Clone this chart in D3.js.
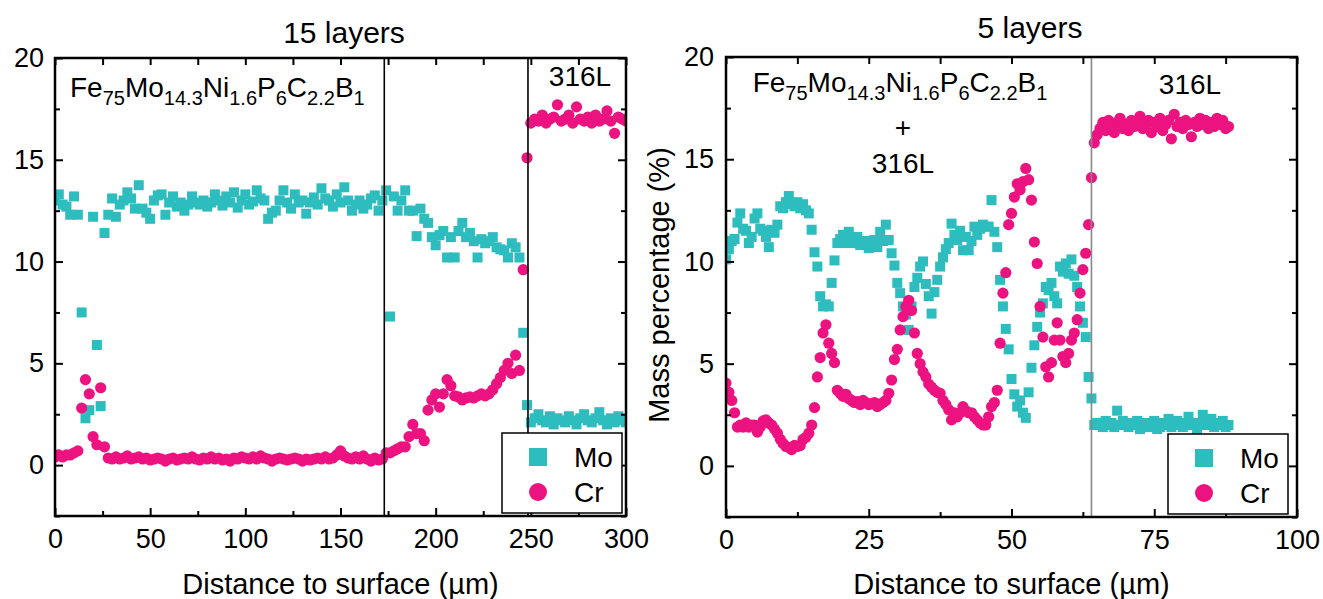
<!DOCTYPE html>
<html>
<head>
<meta charset="utf-8">
<script src="https://cdn.jsdelivr.net/npm/d3@7"></script>
<style>
  body { margin: 0; background: #fff; }
  svg { display: block; font-family: "Liberation Sans", Arial, sans-serif; }
</style>
</head>
<body>
<div id="chart"></div>
<script>
// ---- data (mass %) ----
// 15 layers: line scan 0..300 um, one reading every 2 um
const leftStart = 0, leftStep = 2;
const leftMo = [
  13.0, 13.3, 12.8, 12.7, 12.3, 13.2, 12.3, 7.5, 2.3, 2.7,
  12.2, 5.9, 2.9, 11.4, 12.3, 13.1, 12.2, 12.8, 13.0, 13.4,
  13.1, 12.6, 13.75, 12.6, 12.4, 12.1, 13.0, 13.25, 13.3, 12.3,
  12.9, 13.2, 12.7, 12.9, 12.5, 12.8, 13.2, 12.9, 12.8, 13.0,
  12.7, 12.9, 13.3, 13.0, 12.75, 13.2, 12.9, 13.4, 12.65, 13.0,
  13.3, 12.8, 12.95, 13.5, 13.1, 13.0, 12.1, 12.4, 12.5, 13.0,
  13.5, 12.9, 12.6, 13.3, 12.9, 13.0, 12.35, 12.9, 13.15, 12.8,
  13.6, 13.1, 13.0, 12.7, 13.3, 12.9, 13.65, 13.0, 12.5, 12.8,
  13.0, 12.6, 12.8, 13.1, 13.25, 12.5, 13.0, 13.5, 7.3, 13.2,
  12.5, 13.0, 13.5, 12.5, 12.5, 11.25, 12.6, 12.1, 11.9, 11.2,
  10.8, 11.3, 11.5, 10.2, 11.2, 10.2, 11.5, 11.9, 11.2, 11.4,
  11.0, 10.2, 11.1, 10.9, 11.0, 11.2, 10.7, 10.6, 10.55, 10.2,
  10.9, 10.7, 10.2, 6.5, 2.95, 2.1, 2.3, 2.5, 2.2, 2.1,
  2.4, 2.0, 2.3, 2.2, 2.1, 2.4, 2.2, 2.0, 2.3, 2.5,
  2.2, 2.1, 2.3, 2.6, 2.2, 2.0, 2.3, 2.1, 2.4, 2.2,
  2.1
];
const leftCr = [
  0.4, 0.5, 0.4, 0.5, 0.5, 0.6, 0.7, 2.8, 4.2, 3.5,
  1.4, 1.0, 3.8, 0.9, 0.35, 0.3, 0.4, 0.3, 0.35, 0.45,
  0.3, 0.35, 0.4, 0.3, 0.35, 0.25, 0.3, 0.35, 0.3, 0.2,
  0.3, 0.35, 0.25, 0.3, 0.35, 0.3, 0.4, 0.3, 0.25, 0.35,
  0.3, 0.4, 0.3, 0.35, 0.25, 0.3, 0.2, 0.35, 0.3, 0.4,
  0.35, 0.3, 0.4, 0.3, 0.45, 0.35, 0.3, 0.2, 0.3, 0.35,
  0.3, 0.25, 0.3, 0.35, 0.3, 0.2, 0.3, 0.25, 0.3, 0.35,
  0.3, 0.4, 0.3, 0.35, 0.5, 0.7, 0.45, 0.35, 0.3, 0.4,
  0.3, 0.45, 0.3, 0.2, 0.35, 0.25, 0.3, 0.6, 0.6, 0.7,
  0.8, 0.9, 0.9, 1.4, 2.0, 1.55, 1.55, 1.2, 2.7, 3.2,
  3.5, 2.85, 3.5, 4.2, 3.9, 3.4, 3.35, 3.2, 3.3, 3.35,
  3.3, 3.4, 3.5, 3.4, 3.5, 3.7, 4.0, 4.3, 4.65, 5.0,
  4.5, 5.4, 4.65, 9.6, 15.1, 16.8, 17.0, 16.9, 17.2, 16.8,
  17.0, 17.1, 17.7, 16.9, 17.0, 17.2, 16.8, 17.6, 17.0, 16.9,
  17.1, 16.8, 17.2, 16.9, 17.0, 17.4, 16.9, 16.3, 17.1, 17.0,
  16.9
];

// 5 layers: line scan 0..88 um, one reading every 0.5 um
const rightStart = 0, rightStep = 0.5;
const rightMo = [
  10.1, 10.6, 11.0, 11.1, 11.9, 12.35, 11.6, 11.5, 10.9, 11.2,
  12.1, 12.35, 11.6, 11.5, 11.2, 10.7, 11.55, 11.4, 11.8, 12.7,
  12.6, 12.9, 13.2, 12.8, 12.7, 12.9, 12.6, 12.8, 12.5, 12.35,
  11.55, 10.45, 9.75, 8.3, 7.8, 7.9, 7.8, 8.95, 10.05, 10.9,
  11.1, 11.3, 10.9, 11.45, 11.0, 10.9, 11.2, 10.8, 10.9, 11.0,
  10.65, 10.8, 11.05, 10.7, 11.45, 11.0, 11.8, 11.05, 10.4, 9.8,
  8.95, 8.45, 7.8, 7.4, 6.65, 7.8, 8.75, 9.2, 9.75, 10.0,
  8.9, 8.3, 7.45, 8.5, 9.1, 9.75, 10.2, 10.6, 10.9, 11.85,
  11.3, 11.05, 11.5, 10.55, 11.2, 10.55, 11.0, 11.7, 11.3, 11.6,
  11.8, 11.7, 11.7, 13.0, 11.45, 10.7, 9.1, 7.8, 6.7, 5.7,
  4.25, 3.5, 2.9, 3.2, 2.6, 2.35, 3.6, 4.8, 5.9, 6.8,
  7.5, 7.95, 8.75, 8.6, 8.95, 8.3, 7.95, 9.75, 9.5, 9.9,
  9.4, 10.1, 9.3, 8.75, 7.8, 7.0, 6.3, 4.35, 3.3, 2.0,
  2.1, 2.0, 1.9, 2.2, 2.0, 2.1, 1.9, 2.7, 2.0, 2.2,
  2.0, 1.9, 2.1, 2.0, 2.2, 1.8, 2.0, 2.1, 1.9, 2.0,
  2.2, 1.8, 1.9, 2.1, 2.0, 2.3, 1.9, 2.0, 2.2, 2.1,
  1.9, 2.0, 2.4, 2.1, 2.0, 1.8, 2.1, 2.5, 2.0, 2.2,
  2.3, 1.9, 2.1, 2.0, 2.2, 1.9, 2.0
];
const rightCr = [
  4.05, 3.6, 3.2, 2.6, 1.9, 2.0, 1.9, 2.1, 1.9, 2.0,
  2.0, 1.65, 1.9, 2.2, 2.25, 2.1, 2.0, 1.8, 1.6, 1.3,
  1.1, 0.95, 0.9, 0.8, 1.0, 0.95, 1.0, 1.3, 1.4, 1.6,
  2.0, 2.85, 4.35, 5.3, 6.5, 6.9, 6.0, 5.5, 5.05, 3.7,
  3.55, 3.4, 3.5, 3.3, 3.2, 3.1, 3.15, 3.0, 3.2, 3.1,
  3.0, 3.05, 3.1, 2.9, 3.0, 3.1, 3.2, 3.55, 4.2, 5.2,
  5.7, 6.65, 7.3, 7.8, 8.1, 7.6, 6.5, 5.5, 5.0, 4.6,
  4.35, 4.0, 3.85, 3.7, 3.6, 3.55, 3.2, 3.0, 2.75, 2.25,
  2.6, 2.4, 2.6, 2.9, 2.7, 2.6, 2.6, 2.4, 2.25, 2.1,
  2.0, 2.0, 2.4, 2.9, 3.1, 3.7, 6.0, 8.45, 9.45, 11.8,
  12.35, 13.15, 13.8, 13.5, 13.9, 14.55, 14.0, 13.0, 10.95, 9.9,
  7.8, 6.3, 4.85, 4.35, 5.05, 6.15, 7.0, 6.15, 5.35, 5.05,
  5.5, 6.15, 6.5, 7.15, 8.45, 9.6, 10.4, 11.8, 14.1, 15.8,
  16.2, 16.5, 16.8, 16.4, 16.9, 16.6, 16.3, 16.8, 17.0, 16.5,
  16.7, 16.4, 16.9, 16.6, 16.8, 17.1, 16.5, 16.7, 16.9, 16.3,
  16.8, 16.6, 17.0, 16.4, 16.7, 16.9, 16.0, 17.2, 16.6, 16.8,
  16.5, 16.9, 16.7, 16.1, 16.8, 16.6, 17.0, 16.7, 16.9, 16.5,
  16.8, 16.6, 17.0, 16.7, 16.9, 16.5, 16.6
];

const yDomain = [-2.5, 20];
const yTicks = [0, 5, 10, 15, 20];
const yMinor = [-2.5, 2.5, 7.5, 12.5, 17.5];
const leftXTicks = [0, 50, 100, 150, 200, 250, 300];
const leftXMinor = [25, 75, 125, 175, 225, 275];
const rightXTicks = [0, 25, 50, 75, 100];
const rightXMinor = [12.5, 37.5, 62.5, 87.5];
const leftBoundaries = [173, 248.5];
const rightBoundaries = [64];

const moColor = "#2EBDBF";
const crColor = "#EC1280";

const svg = d3.select("#chart").append("svg")
  .attr("width", 1323)
  .attr("height", 599);

svg.append("rect").attr("width", 1323).attr("height", 599).attr("fill", "#fff");

// Fe75Mo14.3Ni1.6P6C2.2B1 with real subscripts
function formula(sel) {
  const parts = [["Fe", "75"], ["Mo", "14.3"], ["Ni", "1.6"], ["P", "6"], ["C", "2.2"], ["B", "1"]];
  parts.forEach(([el, sub], i) => {
    sel.append("tspan").attr("font-size", 28).attr("dy", i === 0 ? 0 : -8).text(el);
    sel.append("tspan").attr("font-size", 20).attr("dy", 8).text(sub);
  });
}

function drawPanel(p) {
  const x = d3.scaleLinear().domain(p.xDomain).range([p.left, p.right]);
  const y = d3.scaleLinear().domain(yDomain).range([p.bottom, p.top]);
  const g = svg.append("g");

  g.append("clipPath").attr("id", "clip-" + p.id)
    .append("rect")
    .attr("x", p.left).attr("y", p.top)
    .attr("width", p.right - p.left).attr("height", p.bottom - p.top);

  const marks = g.append("g").attr("clip-path", `url(#clip-${p.id})`);

  const mo = p.mo.map((v, i) => ({ d: p.start + i * p.step, v }));
  const cr = p.cr.map((v, i) => ({ d: p.start + i * p.step, v }));

  marks.selectAll("rect.mo")
    .data(mo)
    .join("rect")
    .attr("class", "mo")
    .attr("x", d => x(d.d) - 5)
    .attr("y", d => y(d.v) - 5)
    .attr("width", 10)
    .attr("height", 10)
    .attr("fill", moColor);

  marks.selectAll("circle.cr")
    .data(cr)
    .join("circle")
    .attr("class", "cr")
    .attr("cx", d => x(d.d))
    .attr("cy", d => y(d.v))
    .attr("r", 5.6)
    .attr("fill", crColor);

  // interface lines
  g.selectAll("line.bound")
    .data(p.bounds)
    .join("line")
    .attr("class", "bound")
    .attr("x1", d => x(d)).attr("x2", d => x(d))
    .attr("y1", p.top).attr("y2", p.bottom)
    .attr("stroke", p.boundColor)
    .attr("stroke-width", 1.6);

  // axes, ticks inward on all four sides
  const font = sel => sel.attr("font-size", 27).attr("font-family", '"Liberation Sans", Arial, sans-serif');

  g.append("g")
    .attr("transform", `translate(0,${p.bottom})`)
    .call(d3.axisBottom(x).tickValues(p.xTicks).tickSize(-8).tickPadding(13).tickFormat(d3.format("d")))
    .call(font);
  g.append("g")
    .attr("transform", `translate(0,${p.bottom})`)
    .call(d3.axisBottom(x).tickValues(p.xMinor).tickSize(-5).tickFormat(""));
  g.append("g")
    .attr("transform", `translate(0,${p.top})`)
    .call(d3.axisTop(x).tickValues(p.xTicks.concat(p.xMinor)).tickSize(-7).tickFormat(""));

  g.append("g")
    .attr("transform", `translate(${p.left},0)`)
    .call(d3.axisLeft(y).tickValues(yTicks).tickSize(-8).tickPadding(p.yPad).tickFormat(d3.format("d")))
    .call(font);
  g.append("g")
    .attr("transform", `translate(${p.left},0)`)
    .call(d3.axisLeft(y).tickValues(yMinor).tickSize(-5).tickFormat(""));
  g.append("g")
    .attr("transform", `translate(${p.right},0)`)
    .call(d3.axisRight(y).tickValues(yTicks).tickSize(-8).tickFormat(""));
  g.append("g")
    .attr("transform", `translate(${p.right},0)`)
    .call(d3.axisRight(y).tickValues(yMinor).tickSize(-5).tickFormat(""));

  g.selectAll(".domain").remove();
  g.selectAll(".tick line").attr("stroke", "#000").attr("stroke-width", 2);
  g.selectAll(".tick text").attr("fill", "#000");

  // frame
  g.append("rect")
    .attr("x", p.left).attr("y", p.top)
    .attr("width", p.right - p.left).attr("height", p.bottom - p.top)
    .attr("fill", "none")
    .attr("stroke", "#000")
    .attr("stroke-width", 2.5);

  // legend
  const lg = g.append("g").attr("transform", `translate(${p.legendX},${p.legendY})`);
  lg.append("rect")
    .attr("width", 120).attr("height", 80)
    .attr("fill", "#fff").attr("stroke", "#000").attr("stroke-width", 1.5);
  lg.append("rect").attr("x", 27).attr("y", 15).attr("width", 18).attr("height", 18).attr("fill", moColor);
  lg.append("circle").attr("cx", 36).attr("cy", 59).attr("r", 9).attr("fill", crColor);
  lg.append("text").attr("x", 72).attr("y", 34).attr("font-size", 28).text("Mo");
  lg.append("text").attr("x", 72).attr("y", 69).attr("font-size", 28).text("Cr");

  // title and x label
  g.append("text")
    .attr("x", p.titleX).attr("y", p.titleY)
    .attr("text-anchor", "middle").attr("font-size", 30)
    .text(p.title);
  g.append("text")
    .attr("x", (p.left + p.right) / 2).attr("y", 594)
    .attr("text-anchor", "middle").attr("font-size", 29)
    .text("Distance to surface (\u00b5m)");

  return { g, x, y };
}

const L = drawPanel({
  id: "l", xDomain: [0, 300], left: 55, right: 626, top: 58, bottom: 516,
  start: leftStart, step: leftStep, mo: leftMo, cr: leftCr,
  bounds: leftBoundaries, boundColor: "#000",
  xTicks: leftXTicks, xMinor: leftXMinor, yPad: 11,
  legendX: 502, legendY: 433,
  title: "15 layers", titleX: 344, titleY: 43
});

const R = drawPanel({
  id: "r", xDomain: [0, 100], left: 726, right: 1297, top: 57, bottom: 517,
  start: rightStart, step: rightStep, mo: rightMo, cr: rightCr,
  bounds: rightBoundaries, boundColor: "#888",
  xTicks: rightXTicks, xMinor: rightXMinor, yPad: 12,
  legendX: 1168, legendY: 434,
  title: "5 layers", titleX: 1030, titleY: 38
});

// annotations
L.g.append("text").attr("x", 70).attr("y", 97).call(formula);
L.g.append("text").attr("x", 580).attr("y", 86).attr("text-anchor", "middle").attr("font-size", 28).text("316L");

R.g.append("text").attr("x", 900).attr("y", 92).attr("text-anchor", "middle").call(formula);
R.g.append("text").attr("x", 903).attr("y", 137).attr("text-anchor", "middle").attr("font-size", 28).text("+");
R.g.append("text").attr("x", 903).attr("y", 173).attr("text-anchor", "middle").attr("font-size", 28).text("316L");
R.g.append("text").attr("x", 1190).attr("y", 94).attr("text-anchor", "middle").attr("font-size", 28).text("316L");

svg.append("text")
  .attr("transform", "translate(669,285) rotate(-90)")
  .attr("text-anchor", "middle")
  .attr("font-size", 29)
  .text("Mass percentage (%)");
</script>
</body>
</html>
